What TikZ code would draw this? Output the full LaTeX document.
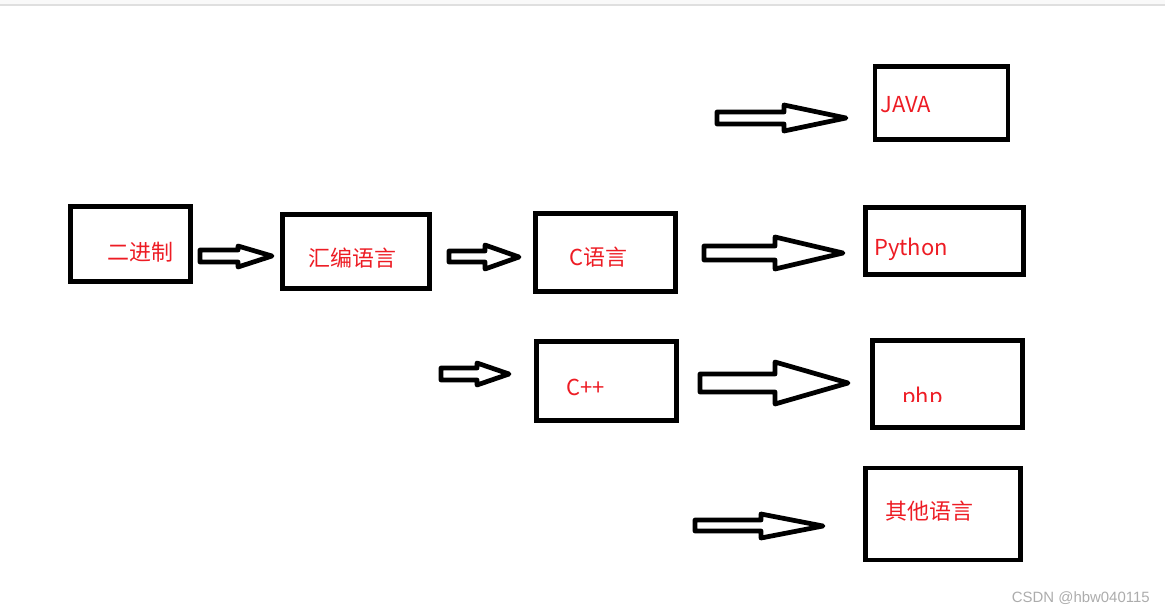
\documentclass[tikz,border=0pt]{standalone}
\usepackage{fontspec}
\newfontfamily\cjk{Noto Sans CJK SC}
\setsansfont{Liberation Sans}
\definecolor{inkred}{RGB}{237,28,36}
\definecolor{wmgray}{RGB}{172,172,172}

\begin{document}
\begin{tikzpicture}[x=0.02cm,y=-0.02cm,
		box/.style={draw, line width=2.8pt, inner sep=0pt},
		lbl/.style={text=inkred, font=\cjk\fontsize{12.5pt}{15pt}\selectfont, inner sep=0pt, anchor=base west},
		fat/.style={draw, line width=2.7pt, line join=round}]
				\useasboundingbox (0,0) rectangle (1165,612);
				\fill[gray!5] (0,0) rectangle (1165,4);
				\fill[gray!25] (0,4) rectangle (1165,6);
				% boxes
				\node[box, minimum width=2.4cm, minimum height=1.5cm] (bin) at (130.5,244) {};
				\node[box, minimum width=2.94cm, minimum height=1.48cm] (asm) at (356,251.5) {};
				\node[box, minimum width=2.8cm, minimum height=1.56cm] (clang) at (605.5,252.5) {};
				\node[box, minimum width=2.8cm, minimum height=1.58cm] (cpp) at (606.5,381) {};
				\node[box, minimum width=2.66cm, minimum height=1.46cm] (java) at (941.5,103) {};
				\node[box, minimum width=3.16cm, minimum height=1.34cm] (py) at (944.5,241) {};
				\node[box, minimum width=3cm, minimum height=1.74cm] (php) at (947.5,384) {};
				\node[box, minimum width=3.1cm, minimum height=1.84cm] (other) at (943,514) {};
				% labels
				\node[lbl] (binT) at (107,260) {二进制};
				\node[lbl] (asmT) at (308,266) {汇编语言};
				\node[lbl] (clangT) at (569,265) {C语言};
				\node[lbl] (cppT) at (566,395) {C++};
				\node[lbl] (javaT) at (880,112) {JAVA};
				\node[lbl] (pyT) at (874,255) {Python};
				\begin{scope}
					\clip (890,370) rectangle (960,401);
					\node[lbl] (phpT) at (902,404) {php};
				\end{scope}
				\node[lbl] (otherT) at (885,519) {其他语言};
				% arrows
				\draw[fat] (200,250) -- (238,250) -- (238,246) -- (272,256) -- (238,267) -- (238,262) -- (200,262) -- cycle;
				\draw[fat] (449,251) -- (485,251) -- (485,245) -- (519,257) -- (485,269) -- (485,262) -- (449,262) -- cycle;
				\draw[fat] (441,368) -- (477,368) -- (477,363) -- (509,374) -- (477,385) -- (477,380) -- (441,380) -- cycle;
				\draw[fat] (717,112) -- (784,112) -- (784,105) -- (846,118) -- (784,131) -- (784,124) -- (717,124) -- cycle;
				\draw[fat] (704,246) -- (775,246) -- (775,237) -- (843,253) -- (775,269) -- (775,260) -- (704,260) -- cycle;
				\draw[fat] (700,374) -- (775,374) -- (775,362) -- (848,383) -- (775,404) -- (775,392) -- (700,392) -- cycle;
				\draw[fat] (695,520) -- (761,520) -- (761,514) -- (823,526) -- (761,538) -- (761,531) -- (695,531) -- cycle;
				\node[text=wmgray, font=\sffamily\fontsize{8.5pt}{10pt}\selectfont, anchor=base east, inner sep=0pt] (mark) at (1150,602) {CSDN @hbw040115};
			\end{tikzpicture}
\end{document}
